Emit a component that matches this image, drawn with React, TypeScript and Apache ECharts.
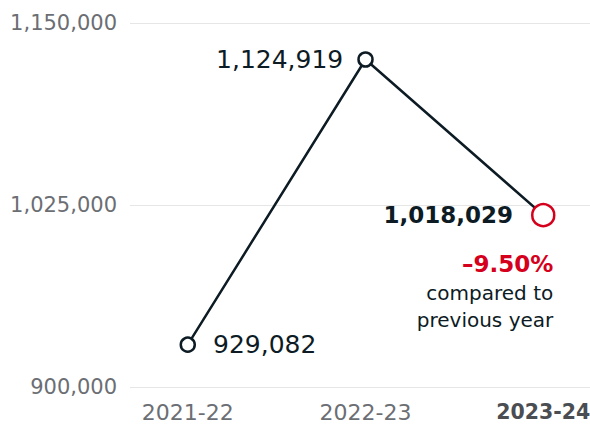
import React, { useEffect, useRef } from "react";
import * as echarts from "echarts";

const categories = ["2021-22", "2022-23", "2023-24"];
const values = [929082, 1124919, 1018029];
const yTicks = [900000, 1025000, 1150000];
const changeText = "\u20139.50%";
const noteLines = ["compared to", "previous year"];

const FONT = "'DejaVu Sans', 'Open Sans', sans-serif";
const DARK = "#0d1b24";
const RED = "#d5001c";
const GRAY = "#6b6e73";

const fmt = (v: number) => v.toLocaleString("en-US");

export default function App() {
  const ref = useRef<HTMLDivElement>(null);
  useEffect(() => {
    const chart = echarts.init(ref.current!, null, { renderer: "svg" });
    const last = values.length - 1;
    const data = values.map((v, i) => {
      const isLast = i === last;
      return {
        value: [i, v],
        symbolSize: isLast ? 22 : 14,
        itemStyle: {
          color: "#fff",
          borderColor: isLast ? RED : DARK,
          borderWidth: 2.5,
        },
        label: {
          show: true,
          position: i === 0 ? "right" : "left",
          distance: i === 0 ? 17 : isLast ? 18 : 14,
          formatter: () => fmt(v),
          fontFamily: FONT,
          fontSize: isLast ? 23 : 25,
          fontWeight: isLast ? "bold" : "normal",
          color: DARK,
        },
      };
    });
    chart.setOption({
      animation: false,
      grid: {
        left: 130,
        right: 0,
        top: 23,
        bottom: 37,
        containLabel: false,
        outerBoundsMode: "none",
      },
      xAxis: {
        type: "value",
        min: -0.325,
        max: 2.263,
        axisLine: { show: false },
        axisTick: { show: false },
        splitLine: { show: false },
        axisLabel: {
          customValues: [0, 1, 2],
          margin: 14,
          fontFamily: FONT,
          fontSize: 22,
          color: GRAY,
          formatter: (v: number) => {
            const idx = Math.round(v);
            return idx === last ? `{b|${categories[idx]}}` : categories[idx];
          },
          rich: {
            b: { fontFamily: FONT, fontSize: 20.5, fontWeight: "bold", color: "#4a4d52" },
          },
        },
      },
      yAxis: {
        type: "value",
        min: yTicks[0],
        max: yTicks[yTicks.length - 1],
        interval: yTicks[1] - yTicks[0],
        axisLine: { show: false },
        axisTick: { show: false },
        splitLine: { lineStyle: { color: "#e6e6e6", width: 1 } },
        axisLabel: {
          margin: 13,
          fontFamily: FONT,
          fontSize: 21,
          color: GRAY,
          formatter: (v: number) => fmt(v),
        },
      },
      series: [
        {
          type: "line",
          data,
          symbol: "circle",
          lineStyle: { color: DARK, width: 2.5 },
          z: 3,
        },
      ],
    });
    const p = chart.convertToPixel({ xAxisIndex: 0, yAxisIndex: 0 }, [last, values[last]]) as number[];
    const rx = p[0] + 10;
    chart.setOption({
      graphic: [
        {
          type: "text",
          x: rx,
          y: p[1] + 49,
          style: {
            text: changeText,
            fill: RED,
            font: `bold 23px ${FONT}`,
            textAlign: "right",
            textVerticalAlign: "middle",
          },
        },
        ...noteLines.map((t, i) => ({
          type: "text",
          x: rx,
          y: p[1] + 78 + i * 27,
          style: {
            text: t,
            fill: DARK,
            font: `20px ${FONT}`,
            textAlign: "right",
            textVerticalAlign: "middle",
          },
        })),
      ],
    });
    return () => chart.dispose();
  }, []);
  return <div ref={ref} style={{ width: 590, height: 424, position: "absolute", left: 0, top: 0 }} />;
}
